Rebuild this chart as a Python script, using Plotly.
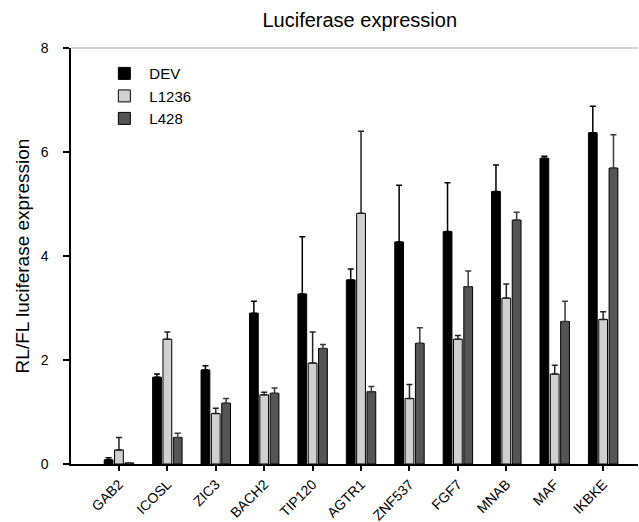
import plotly.graph_objects as go

genes = ["GAB2", "ICOSL", "ZIC3", "BACH2", "TIP120", "AGTR1", "ZNF537", "FGF7", "MNAB", "MAF", "IKBKE"]
dev = [0.08, 1.67, 1.81, 2.90, 3.27, 3.54, 4.27, 4.47, 5.24, 5.88, 6.37]
dev_err = [0.04, 0.06, 0.08, 0.23, 1.10, 0.21, 1.09, 0.94, 0.51, 0.04, 0.51]
l1236 = [0.27, 2.40, 0.97, 1.33, 1.94, 4.82, 1.26, 2.40, 3.19, 1.73, 2.78]
l1236_err = [0.24, 0.14, 0.10, 0.05, 0.60, 1.58, 0.27, 0.07, 0.27, 0.17, 0.15]
l428 = [0.02, 0.51, 1.17, 1.36, 2.22, 1.39, 2.32, 3.41, 4.69, 2.74, 5.69]
l428_err = [0.0, 0.08, 0.09, 0.10, 0.08, 0.10, 0.30, 0.30, 0.15, 0.39, 0.64]

series = [
    ("DEV", dev, dev_err, "#000000", "#000000"),
    ("L1236", l1236, l1236_err, "#d0d0d0", "#222222"),
    ("L428", l428, l428_err, "#555555", "#3a3a3a"),
]

FONT = "Liberation Sans, Arial, sans-serif"

fig = go.Figure()
for name, vals, errs, color, ecolor in series:
    fig.add_trace(go.Bar(
        x=genes, y=vals, name=name,
        marker=dict(color=color, line=dict(color="#000000", width=1)),
        error_y=dict(type="data", array=errs, symmetric=False, arrayminus=[0] * len(errs),
                     color=ecolor, thickness=1.5, width=3),
    ))

fig.update_layout(
    width=639, height=522,
    margin=dict(l=71, r=1, t=48, b=58),
    paper_bgcolor="white", plot_bgcolor="white",
    barmode="group", bargap=0.36, bargroupgap=0.15,
    font=dict(family=FONT, color="#000000"),
    title=dict(text="Luciferase expression", x=0.563, xanchor="center", y=0.962, yanchor="middle",
               font=dict(size=20, family=FONT)),
    showlegend=True,
    legend=dict(x=0.05, y=0.978, xanchor="left", yanchor="top", bgcolor="rgba(0,0,0,0)",
                font=dict(size=15, family=FONT), tracegroupgap=0, itemwidth=40),
    xaxis=dict(
        type="category", range=[-0.99, 10.72], automargin=False,
        showline=True, linecolor="#000000", linewidth=1.5,
        ticks="outside", ticklen=5, tickcolor="#000000", tickwidth=1.5,
        tickangle=-45, tickfont=dict(size=14, family=FONT),
        showgrid=False, zeroline=False,
    ),
    yaxis=dict(
        range=[0, 8], tickvals=[0, 2, 4, 6, 8], automargin=False,
        showline=True, linecolor="#000000", linewidth=1.5,
        ticks="outside", ticklen=6, tickcolor="#000000", tickwidth=1.5,
        tickfont=dict(size=14, family=FONT), ticklabelstandoff=12,
        showgrid=False, zeroline=False,
        title=dict(text="RL/FL luciferase expression", font=dict(size=19, family=FONT), standoff=6),
    ),
    shapes=[dict(type="line", xref="paper", yref="paper", x0=0, x1=1, y0=1, y1=1,
                 line=dict(color="#d2d2d2", width=2))],
)

fig.write_html("out.html", config={"displayModeBar": False},
               post_script="document.body.style.margin='0px';")
